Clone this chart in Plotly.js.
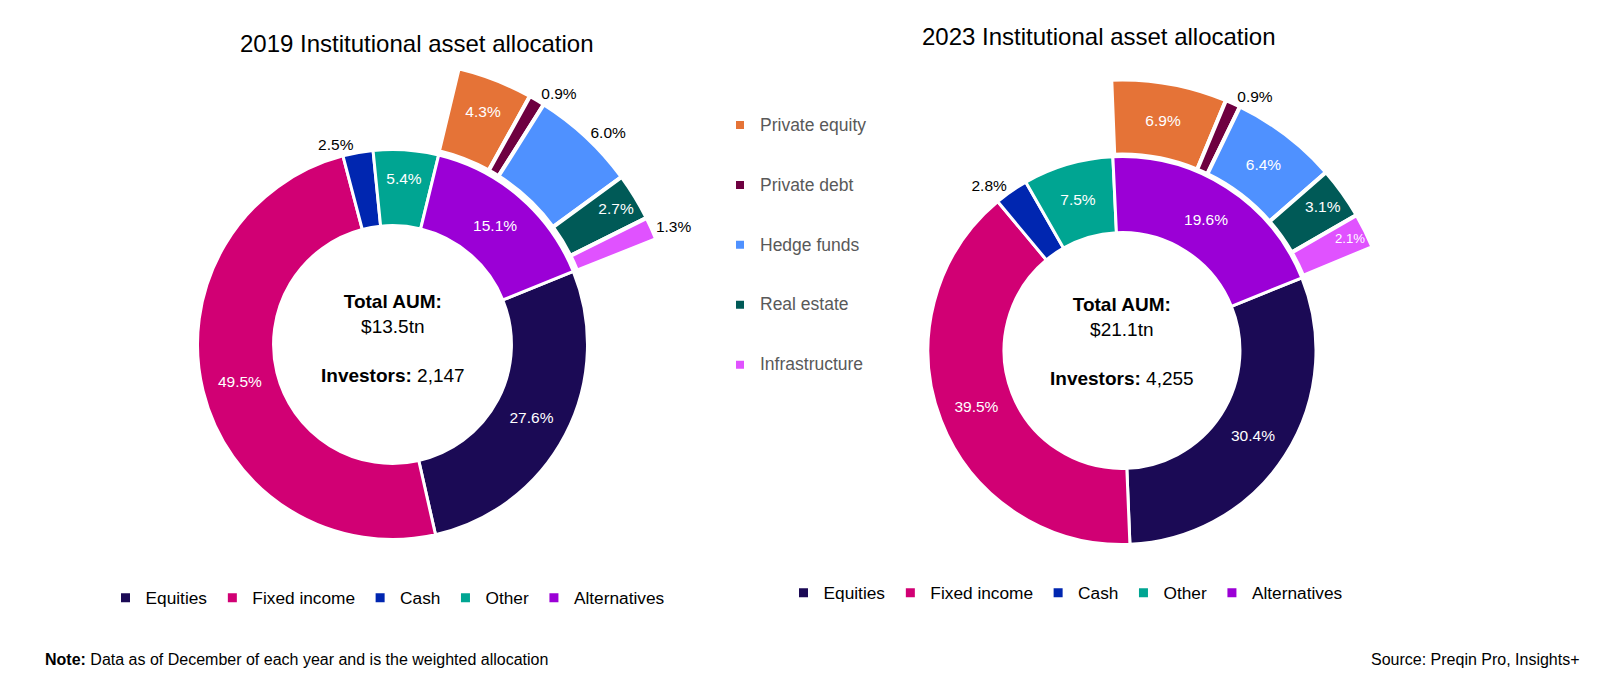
<!DOCTYPE html>
<html><head><meta charset="utf-8">
<script src="https://cdn.plot.ly/plotly-3.0.1.min.js"></script>
<style>html,body{margin:0;padding:0;background:#fff}#chart{width:1598px;height:680px}</style>
</head><body><div id="chart"></div>
<script>
// ---------- data ----------
const mainCategories = ['Equities', 'Fixed income', 'Cash', 'Other', 'Alternatives'];
const mainColors = ['#1b0a55', '#d10074', '#0026b0', '#00a592', '#9b00d6'];
const values2019 = [27.6, 49.5, 2.5, 5.4, 15.1];
const values2023 = [30.4, 39.5, 2.8, 7.5, 19.6];

const altCategories = ['Private equity', 'Private debt', 'Hedge funds', 'Real estate', 'Infrastructure'];
const altColors = ['#e57337', '#6e0040', '#4f91ff', '#005a57', '#e052ff'];
const alt2019 = [4.3, 0.9, 6.0, 2.7, 1.3];
const alt2023 = [6.9, 0.9, 6.4, 3.1, 2.1];

const chartTitles = ['2019 Institutional asset allocation', '2023 Institutional asset allocation'];
const totalAUM = ['$13.5tn', '$21.1tn'];
const investorCounts = ['2,147', '4,255'];

// ---------- layout helpers ----------
const W = 1598, H = 680;
const FONT = 'Liberation Sans, Arial, sans-serif';
function dom(cx, cy, r) {
  return {x: [(cx - r) / W, (cx + r) / W], y: [1 - (cy + r) / H, 1 - (cy - r) / H]};
}
const sum = a => a.reduce((s, v) => s + v, 0);
const fmt = v => v.toFixed(1) + '%';
const ROT = 68;

function outerRotation(vals, altVals) {
  const tot = sum(vals);
  const altVal = vals[vals.length - 1];
  const altStart = ROT + 360 * (tot - altVal) / tot;
  const altSpan = 360 * altVal / tot;
  const oSpan = 360 * sum(altVals) / 100;
  return (altStart + (altSpan - oSpan) / 2) % 360;
}

const charts = [
  {vals: values2019, alts: alt2019, cx: 392.5, cy: 344.5, rIn: 195, holeIn: 0.61, rOut: 284, holeOut: 0.70,
   inPos: ['inside', 'inside', 'outside', 'inside', 'inside'],
   outPos: ['inside', 'outside', 'outside', 'inside', 'outside'],
   legendIn: 'legend', legendOut: null, group: 'y2019', title: {x: 417, y: 44}, center: 338},
  {vals: values2023, alts: alt2023, cx: 1122, cy: 350.5, rIn: 194, holeIn: 0.608, rOut: 271, holeOut: 0.723,
   inPos: ['inside', 'inside', 'outside', 'inside', 'inside'],
   outPos: ['inside', 'outside', 'inside', 'inside', 'inside'],
   legendIn: 'legend2', legendOut: 'legend3', group: 'y2023', title: {x: 1099, y: 36}, center: 341}
];

const traces = [];
const annotations = [];
charts.forEach((c, i) => {
  traces.push({
    type: 'pie', sort: false, direction: 'clockwise', rotation: ROT,
    labels: mainCategories, values: c.vals,
    text: c.vals.map(fmt), textinfo: 'text', textposition: c.inPos,
    insidetextorientation: 'horizontal',
    textfont: {family: FONT, size: 15.5},
    insidetextfont: {family: FONT, size: 15.5, color: '#ffffff'},
    outsidetextfont: {family: FONT, size: 15.5, color: '#000000'},
    marker: {colors: mainColors, line: {color: '#ffffff', width: 3}},
    hole: c.holeIn, domain: dom(c.cx, c.cy, c.rIn),
    legend: c.legendIn, legendgroup: c.group, hoverinfo: 'label+text', automargin: false
  });
  const outerLabels = c.legendOut
    ? altCategories.map(s => '<br><span style="font-size:17.5px">' + s + '</span><br> ')
    : altCategories.slice();
  traces.push({
    type: 'pie', sort: false, direction: 'clockwise', rotation: outerRotation(c.vals, c.alts),
    labels: outerLabels.concat([' ']), values: c.alts.concat([100 - sum(c.alts)]),
    text: c.alts.map(fmt).concat(['']), textinfo: 'text', textposition: c.outPos.concat(['none']),
    insidetextorientation: 'horizontal',
    textfont: {family: FONT, size: 15.5},
    insidetextfont: {family: FONT, size: 15.5, color: '#ffffff'},
    outsidetextfont: {family: FONT, size: 15.5, color: '#000000'},
    marker: {colors: altColors.concat(['rgba(0,0,0,0)']),
             line: {color: altColors.map(() => '#ffffff').concat(['rgba(0,0,0,0)']),
                    width: altColors.map(() => 4).concat([0])}},
    hole: c.holeOut, domain: dom(c.cx, c.cy, c.rOut),
    legend: c.legendOut || 'legend', legendgroup: c.group + 'alt', showlegend: !!c.legendOut,
    hoverinfo: 'skip', automargin: false
  });
  annotations.push({
    text: chartTitles[i], xref: 'paper', yref: 'paper',
    x: c.title.x / W, y: 1 - c.title.y / H, xanchor: 'center', yanchor: 'middle',
    showarrow: false, font: {family: FONT, size: 24, color: '#000'}
  });
  annotations.push({
    text: '<b>Total AUM:</b><br>' + totalAUM[i] + '<br><br><b>Investors:</b> ' + investorCounts[i],
    xref: 'paper', yref: 'paper', x: c.cx / W, y: 1 - c.center / H,
    xanchor: 'center', yanchor: 'middle', align: 'center',
    showarrow: false, font: {family: FONT, size: 19, color: '#000'}
  });
});

annotations.push({
  text: '<b>Note:</b> Data as of December of each year and is the weighted allocation',
  xref: 'paper', yref: 'paper', x: 43 / W, y: 1 - 659 / H, xanchor: 'left', yanchor: 'middle',
  showarrow: false, font: {family: FONT, size: 16, color: '#000'}
});
annotations.push({
  text: 'Source: Preqin Pro, Insights+',
  xref: 'paper', yref: 'paper', x: 1582 / W, y: 1 - 659 / H, xanchor: 'right', yanchor: 'middle',
  showarrow: false, font: {family: FONT, size: 16, color: '#000'}
});

const layout = {
  width: W, height: H, margin: {l: 0, r: 0, t: 0, b: 0},
  paper_bgcolor: '#ffffff', plot_bgcolor: '#ffffff',
  font: {family: FONT, color: '#000'},
  showlegend: true,
  legend: {orientation: 'h', traceorder: 'normal', x: 388 / W, y: 1 - 598 / H, xanchor: 'center', yanchor: 'middle',
           font: {family: FONT, size: 17.3, color: '#000'}, bgcolor: 'rgba(0,0,0,0)'},
  legend2: {orientation: 'h', traceorder: 'normal', x: 1066 / W, y: 1 - 593 / H, xanchor: 'center', yanchor: 'middle',
            font: {family: FONT, size: 17.3, color: '#000'}, bgcolor: 'rgba(0,0,0,0)'},
  legend3: {orientation: 'v', traceorder: 'normal', x: 720 / W, y: 1 - 90 / H, xanchor: 'left', yanchor: 'top',
            font: {family: FONT, size: 14.6, color: '#595959'}, bgcolor: 'rgba(0,0,0,0)'},
  annotations: annotations
};

Plotly.newPlot('chart', traces, layout, {displayModeBar: false, staticPlot: true});
</script>
</body></html>
